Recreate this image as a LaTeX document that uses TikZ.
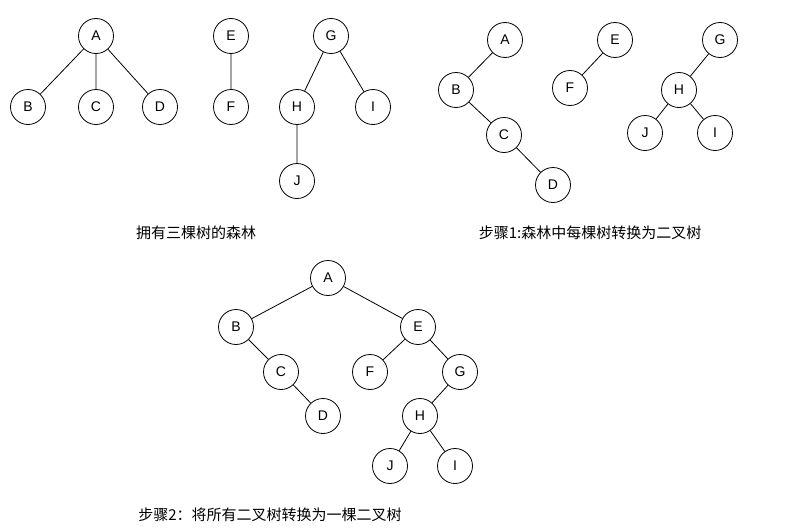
\documentclass[tikz,border=0pt]{standalone}
\usepackage{fontspec}
\setsansfont{Liberation Sans}
\newfontfamily\cjk{Noto Sans CJK SC}
\begin{document}
\begin{tikzpicture}[x=1pt,y=-1pt,thick]
\useasboundingbox (0,0) rectangle (785,530);
\tikzset{tn/.style={circle,draw,fill=white,inner sep=0pt,minimum size=35pt,font=\sffamily\fontsize{14}{14}\selectfont},
  caption/.style={font=\cjk\fontsize{15}{15}\selectfont}}
% forest
\node[tn] (A1) at (96,36) {A};
\node[tn] (B1) at (28,107) {B};
\node[tn] (C1) at (96,107) {C};
\node[tn] (D1) at (160,107) {D};
\node[tn] (E1) at (231,36) {E};
\node[tn] (F1) at (231,107) {F};
\node[tn] (G1) at (331,36) {G};
\node[tn] (H1) at (297,107) {H};
\node[tn] (I1) at (373,107) {I};
\node[tn] (J1) at (297,181) {J};
\draw (A1) -- (B1) (A1) -- (C1) (A1) -- (D1) (E1) -- (F1)
  (G1) -- (H1) (G1) -- (I1) (H1) -- (J1);
\node[caption] (L1) at (196,233) {拥有三棵树的森林};
% step 1
\node[tn] (A2) at (505,40) {A};
\node[tn] (B2) at (456,90) {B};
\node[tn] (C2) at (504,135) {C};
\node[tn] (D2) at (553,185) {D};
\node[tn] (E2) at (615,40) {E};
\node[tn] (F2) at (570,88) {F};
\node[tn] (G2) at (720,40) {G};
\node[tn] (H2) at (679,90) {H};
\node[tn] (J2) at (645,133) {J};
\node[tn] (I2) at (715,133) {I};
\draw (A2) -- (B2) -- (C2) -- (D2) (E2) -- (F2)
  (G2) -- (H2) -- (J2) (H2) -- (I2);
\node[caption] (L2) at (590,233) {步骤1:森林中每棵树转换为二叉树};
% step 2
\node[tn] (A3) at (328,278) {A};
\node[tn] (B3) at (236,327) {B};
\node[tn] (C3) at (281,372) {C};
\node[tn] (D3) at (323,416) {D};
\node[tn] (E3) at (418,327) {E};
\node[tn] (F3) at (370,372) {F};
\node[tn] (G3) at (460,372) {G};
\node[tn] (H3) at (420,416) {H};
\node[tn] (J3) at (390,466) {J};
\node[tn] (I3) at (455,466) {I};
\draw (A3) -- (B3) -- (C3) -- (D3) (A3) -- (E3) -- (F3) (E3) -- (G3) -- (H3) -- (J3) (H3) -- (I3);
\node[caption] (L3) at (270,515) {步骤2：将所有二叉树转换为一棵二叉树};
\end{tikzpicture}
\end{document}
